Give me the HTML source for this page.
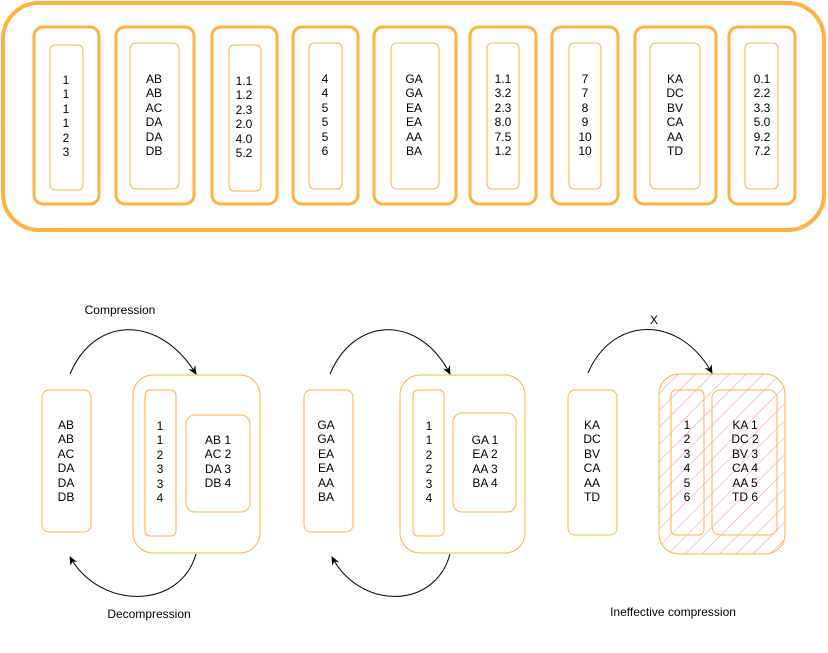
<!DOCTYPE html>
<html><head><meta charset="utf-8"><style>body{margin:0;background:#fff}svg{display:block}text{font-family:"Liberation Sans",sans-serif;font-size:12px;fill:#000}</style></head><body>
<svg width="828" height="653" viewBox="0 0 828 653" xmlns="http://www.w3.org/2000/svg">
<defs>
<pattern id="h" patternUnits="userSpaceOnUse" width="12" height="12" patternTransform="rotate(45)"><line x1="0" y1="0" x2="0" y2="12" stroke="#ff8a8a" stroke-width="1"/></pattern>
<marker id="a" markerWidth="10" markerHeight="10" refX="8" refY="5" orient="auto" markerUnits="userSpaceOnUse"><path d="M0,1 L9,5 L0,9 L3,5 Z" fill="#000"/></marker>
</defs>
<rect x="3" y="3" width="821" height="227" rx="36" fill="none" stroke="#FFB23F" stroke-width="4"/>
<g fill="none" stroke="#FFB23F">
<g stroke-width="3">
<rect x="34" y="27" width="65" height="177" rx="9"/><rect x="116" y="27" width="78" height="177" rx="9"/><rect x="212" y="27" width="65" height="177" rx="9"/><rect x="293" y="27" width="65" height="177" rx="9"/><rect x="374" y="27" width="82" height="177" rx="9"/><rect x="470" y="27" width="66" height="177" rx="9"/><rect x="552" y="27" width="66" height="177" rx="9"/><rect x="635" y="27" width="81" height="177" rx="9"/><rect x="729" y="27" width="66" height="177" rx="9"/>
</g>
<g stroke-width="1">
<rect x="50" y="45" width="33" height="145" rx="5"/><rect x="130" y="43" width="49" height="146" rx="6"/><rect x="229" y="45" width="32" height="146" rx="5"/><rect x="309" y="43" width="33" height="146" rx="5"/><rect x="391" y="43" width="48" height="146" rx="6"/><rect x="487" y="43" width="32" height="146" rx="5"/><rect x="569" y="43" width="32" height="146" rx="5"/><rect x="650" y="43" width="50" height="146" rx="6"/><rect x="745" y="43" width="33" height="146" rx="5"/>
</g>
</g>
<g text-anchor="middle">
<text x="66" y="84">1</text><text x="66" y="98">1</text><text x="66" y="113">1</text><text x="66" y="127">1</text><text x="66" y="142">2</text><text x="66" y="156">3</text>
<text x="154" y="83">AB</text><text x="154" y="97">AB</text><text x="154" y="112">AC</text><text x="154" y="126">DA</text><text x="154" y="141">DA</text><text x="154" y="155">DB</text>
<text x="244" y="85">1.1</text><text x="244" y="99">1.2</text><text x="244" y="114">2.3</text><text x="244" y="128">2.0</text><text x="244" y="143">4.0</text><text x="244" y="157">5.2</text>
<text x="325" y="83">4</text><text x="325" y="97">4</text><text x="325" y="112">5</text><text x="325" y="126">5</text><text x="325" y="141">5</text><text x="325" y="155">6</text>
<text x="414" y="83">GA</text><text x="414" y="97">GA</text><text x="414" y="112">EA</text><text x="414" y="126">EA</text><text x="414" y="141">AA</text><text x="414" y="155">BA</text>
<text x="503" y="83">1.1</text><text x="503" y="97">3.2</text><text x="503" y="112">2.3</text><text x="503" y="126">8.0</text><text x="503" y="141">7.5</text><text x="503" y="155">1.2</text>
<text x="585" y="83">7</text><text x="585" y="97">7</text><text x="585" y="112">8</text><text x="585" y="126">9</text><text x="585" y="141">10</text><text x="585" y="155">10</text>
<text x="675" y="83">KA</text><text x="675" y="97">DC</text><text x="675" y="112">BV</text><text x="675" y="126">CA</text><text x="675" y="141">AA</text><text x="675" y="155">TD</text>
<text x="762" y="83">0.1</text><text x="762" y="97">2.2</text><text x="762" y="112">3.3</text><text x="762" y="126">5.0</text><text x="762" y="141">9.2</text><text x="762" y="155">7.2</text>
</g>
<!-- bottom -->
<rect x="659" y="374" width="126" height="180" rx="20" fill="url(#h)"/>
<g fill="none" stroke="#FFB23F" stroke-width="1">
<rect x="42" y="390" width="49" height="142" rx="7"/><rect x="133" y="375" width="127" height="178" rx="20"/><rect x="145" y="390" width="31" height="146" rx="5"/><rect x="186" y="415" width="64" height="97" rx="9"/>
<rect x="304" y="390" width="49" height="142" rx="7"/><rect x="400" y="375" width="125" height="178" rx="20"/><rect x="413" y="390" width="31" height="146" rx="5"/><rect x="453" y="413" width="63" height="99" rx="9"/>
<rect x="568" y="390" width="49" height="145" rx="7"/><rect x="659" y="374" width="126" height="180" rx="20"/><rect x="671" y="390" width="33" height="145" rx="5"/><rect x="712" y="390" width="65" height="145" rx="8"/>
</g>
<g fill="none" stroke="#000" stroke-width="1">
<path d="M70,374 C95,315 160,315 196,374" marker-end="url(#a)"/>
<path d="M196,554 C180,610 100,610 70,557" marker-end="url(#a)"/>
<path d="M330,374 C355,315 420,315 450,374" marker-end="url(#a)"/>
<path d="M450,554 C435,610 360,610 332,557" marker-end="url(#a)"/>
<path d="M588,373 C613,315 680,315 712,373" marker-end="url(#a)"/>
</g>
<text x="120" y="314" text-anchor="middle" font-size="11">Compression</text>
<text x="149" y="618" text-anchor="middle" font-size="11">Decompression</text>
<text x="654" y="324" text-anchor="middle" font-size="11">X</text>
<text x="673" y="616" text-anchor="middle" font-size="11">Ineffective compression</text>
<g text-anchor="middle">
<text x="66" y="429">AB</text><text x="66" y="443">AB</text><text x="66" y="458">AC</text><text x="66" y="472">DA</text><text x="66" y="487">DA</text><text x="66" y="501">DB</text>
<text x="160" y="430">1</text><text x="160" y="444">1</text><text x="160" y="459">2</text><text x="160" y="473">3</text><text x="160" y="488">3</text><text x="160" y="502">4</text>
<text x="218" y="444">AB 1</text><text x="218" y="458">AC 2</text><text x="218" y="473">DA 3</text><text x="218" y="487">DB 4</text>
<text x="326" y="429">GA</text><text x="326" y="443">GA</text><text x="326" y="458">EA</text><text x="326" y="472">EA</text><text x="326" y="487">AA</text><text x="326" y="501">BA</text>
<text x="429" y="430">1</text><text x="429" y="444">1</text><text x="429" y="459">2</text><text x="429" y="473">2</text><text x="429" y="488">3</text><text x="429" y="502">4</text>
<text x="485" y="444">GA 1</text><text x="485" y="458">EA 2</text><text x="485" y="473">AA 3</text><text x="485" y="487">BA 4</text>
<text x="592" y="429">KA</text><text x="592" y="443">DC</text><text x="592" y="458">BV</text><text x="592" y="472">CA</text><text x="592" y="487">AA</text><text x="592" y="501">TD</text>
<text x="687" y="429">1</text><text x="687" y="443">2</text><text x="687" y="458">3</text><text x="687" y="472">4</text><text x="687" y="487">5</text><text x="687" y="501">6</text>
<text x="745" y="429">KA 1</text><text x="745" y="443">DC 2</text><text x="745" y="458">BV 3</text><text x="745" y="472">CA 4</text><text x="745" y="487">AA 5</text><text x="745" y="501">TD 6</text>
</g>
</svg>
</body></html>
